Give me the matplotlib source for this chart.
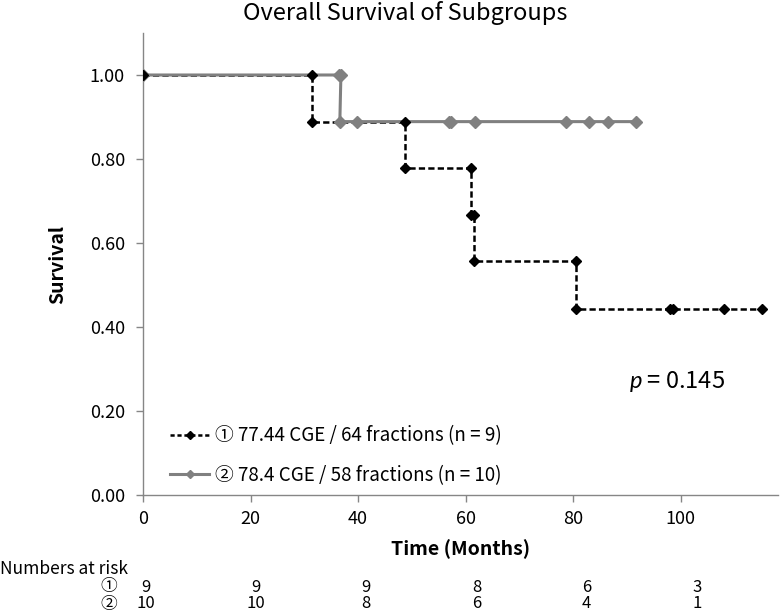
import matplotlib
matplotlib.use("Agg")
import matplotlib.pyplot as plt
import matplotlib.transforms as mtransforms
from matplotlib.lines import Line2D

plt.rcParams['font.family'] = ['Noto Sans CJK JP', 'DejaVu Sans']
plt.rcParams['mathtext.fontset'] = 'custom'
plt.rcParams['mathtext.it'] = 'Lato:italic'
plt.rcParams['mathtext.rm'] = 'Noto Sans CJK JP'
plt.rcParams['lines.scale_dashes'] = False

# Group 1: 77.44 CGE / 64 fractions (step vertices, censored points at the end)
g1_time = [0, 31.5, 31.5, 48.8, 48.8, 61.0, 61.0, 61.5, 61.5, 80.5, 80.5, 98.0, 98.5, 108.0, 115.1]
g1_surv = [1.0, 1.0, 0.889, 0.889, 0.778, 0.778, 0.667, 0.667, 0.556, 0.556, 0.444, 0.444, 0.444, 0.444, 0.444]

# Group 2: 78.4 CGE / 58 fractions
g2_time = [0, 36.4, 36.8, 36.6, 39.7, 56.9, 57.3, 61.8, 78.7, 82.9, 86.4, 91.7]
g2_surv = [1.0, 1.0, 1.0, 0.889, 0.889, 0.889, 0.889, 0.889, 0.889, 0.889, 0.889, 0.889]

g1_label = "\u2460 77.44 CGE / 64 fractions (n = 9)"
g2_label = "\u2461 78.4 CGE / 58 fractions (n = 10)"

risk_times = [0, 20, 40, 60, 80, 100]
risk_g1 = [9, 9, 9, 8, 6, 3]
risk_g2 = [10, 10, 8, 6, 4, 1]

black = '#000000'
gray = '#808080'
axis_gray = '#868686'

fig = plt.figure(figsize=(7.8, 6.11), dpi=100)
ax = fig.add_axes([0.1833, 0.1898, 0.8137, 0.7562])

# black dashed line below, gray line on top, black markers above all
ax.plot(g1_time, g1_surv, color=black, lw=1.8, dashes=(4.5, 2.3), zorder=2)
ax.plot(g2_time, g2_surv, color=gray, lw=2.2, marker='D', markersize=6.5,
        markerfacecolor=gray, markeredgecolor=gray, zorder=3)
ax.plot(g1_time, g1_surv, linestyle='none', marker='D', markersize=5,
        color=black, zorder=4)

ax.set_xlim(0, 118)
ax.set_ylim(0, 1.1)
ax.set_xticks(risk_times)
ax.set_yticks([0, 0.2, 0.4, 0.6, 0.8, 1.0])
ax.set_yticklabels([f"{v:.2f}" for v in [0, 0.2, 0.4, 0.6, 0.8, 1.0]])

for side in ['top', 'right']:
    ax.spines[side].set_visible(False)
for side in ['left', 'bottom']:
    ax.spines[side].set_color(axis_gray)
    ax.spines[side].set_linewidth(1)
ax.tick_params(axis='both', colors=axis_gray, labelcolor='black', labelsize=13,
               direction='out', length=5, width=1)
ax.tick_params(axis='y', pad=8)
ax.tick_params(axis='x', pad=6)

ax.set_xlabel("Time (Months)", fontsize=14, fontweight='bold', labelpad=8)
ax.set_ylabel("Survival", fontsize=14, fontweight='bold', labelpad=16)
fig.text(0.52, 0.978, "Overall Survival of Subgroups", ha='center', va='center', fontsize=17)

ax.text(0.841, 0.245, "$p$ = 0.145", transform=ax.transAxes, ha='center', va='center', fontsize=17)

handles = [
    Line2D([], [], color=black, lw=1.8, dashes=(3, 2), marker='D', markersize=4),
    Line2D([], [], color=gray, lw=2.2, marker='D', markersize=4.5),
]
ax.legend(handles, [g1_label, g2_label], loc='center left', bbox_to_anchor=(0.016, 0.0855),
          frameon=False, fontsize=13.5, handlelength=2.1, handletextpad=0.3, labelspacing=1.0)

# numbers at risk table under the axis
trans = mtransforms.blended_transform_factory(ax.transData, fig.transFigure)
fig.text(0.0, 1 - 569 / 611, "Numbers at risk", ha='left', va='center', fontsize=12.5)
fig.text(100 / 780, 1 - 587 / 611, "\u2460", ha='left', va='center', fontsize=12)
fig.text(100 / 780, 1 - 604 / 611, "\u2461", ha='left', va='center', fontsize=12)
for t, a, b in zip(risk_times, risk_g1, risk_g2):
    ax.text(t * 1.025 + 0.5, 1 - 587 / 611, str(a), transform=trans, ha='center', va='center', fontsize=12)
    ax.text(t * 1.025 + 0.5, 1 - 604 / 611, str(b), transform=trans, ha='center', va='center', fontsize=12)

fig.savefig("out.png", dpi=100)
